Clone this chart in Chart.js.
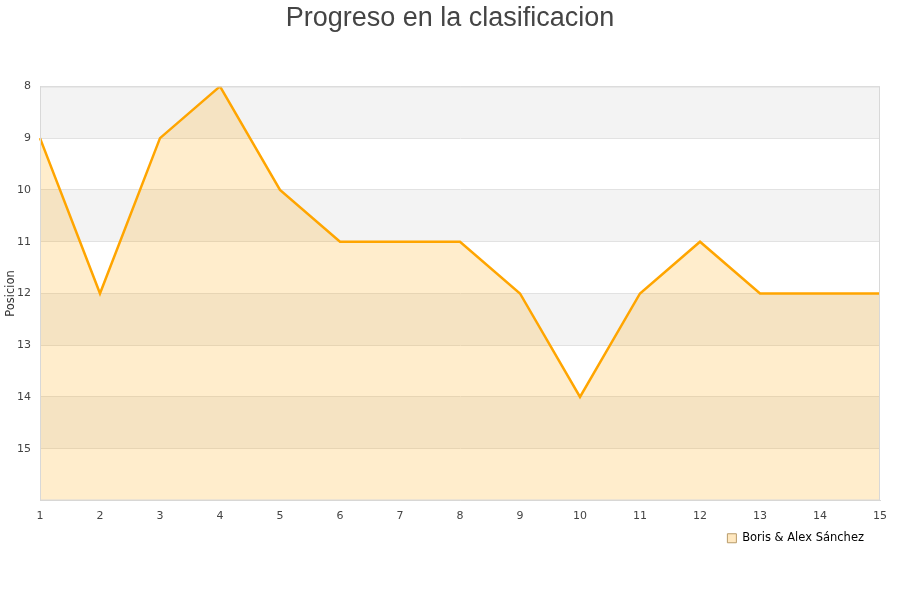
<!DOCTYPE html>
<html>
<head>
<meta charset="utf-8">
<script src="https://cdn.jsdelivr.net/npm/chart.js@4/dist/chart.umd.min.js"></script>
<style>
html,body{margin:0;padding:0;background:#fff;}
#wrap{width:900px;height:600px;}
</style>
</head>
<body>
<div id="wrap"><canvas id="c" width="900" height="600"></canvas></div>
<script>
const jornadas = [1,2,3,4,5,6,7,8,9,10,11,12,13,14,15];
const posiciones = [9,12,9,8,10,11,11,11,12,14,12,11,12,12,12];
const seriesName = 'Boris & Alex Sánchez';
const chartTitle = 'Progreso en la clasificacion';
const yTitle = 'Posicion';
const yMin = 8, yMax = 16;

const bandsPlugin = {
  id: 'bands',
  afterLayout(chart) {
    if (chart.legend) { chart.legend.left -= 8; chart.legend.right -= 8; }
    if (chart.titleBlock) { chart.titleBlock.left = 0; chart.titleBlock.right = chart.width; chart.titleBlock.width = chart.width; }
  },
  beforeDraw(chart) {
    const {ctx, chartArea: a, scales: {y}} = chart;
    ctx.save();
    for (let v = yMin; v < yMax; v++) {
      if ((v - yMin) % 2 === 0) {
        const p1 = y.getPixelForValue(v), p2 = y.getPixelForValue(v + 1);
        ctx.fillStyle = '#f3f3f3';
        ctx.fillRect(a.left, Math.min(p1,p2), a.right - a.left, Math.abs(p2 - p1));
      }
    }
    ctx.restore();
  },
  afterDatasetsDraw(chart) {
    const {ctx, chartArea: a} = chart;
    ctx.save();
    ctx.strokeStyle = '#d8d8d8';
    ctx.lineWidth = 1;
    ctx.strokeRect(a.left + 0.5, a.top + 0.5, a.right - a.left - 1, a.bottom - a.top - 1);
    ctx.restore();
  }
};

new Chart(document.getElementById('c'), {
  type: 'line',
  data: {
    labels: jornadas,
    datasets: [{
      label: seriesName,
      data: posiciones,
      borderColor: '#ffa500',
      backgroundColor: 'rgba(255,165,0,0.2)',
      borderWidth: 2.5,
      pointRadius: 0,
      tension: 0,
      fill: {value: yMax}
    }]
  },
  options: {
    responsive: false,
    animation: false,
    layout: {padding: {left: 0, right: 20, top: 0, bottom: 46}},
    plugins: {
      title: {
        display: true,
        text: chartTitle,
        color: '#444',
        font: {family: 'Liberation Sans', size: 27, weight: 'normal'},
        padding: {top: 2, bottom: 52}
      },
      legend: {
        position: 'bottom',
        align: 'end',
        labels: {
          boxWidth: 9, boxHeight: 9,
          color: '#000',
          font: {family: 'DejaVu Sans', size: 11.5},
          padding: 8,
          generateLabels(chart) {
            return [{text: seriesName, fillStyle: '#ffe8c0', strokeStyle: '#b89b6a', lineWidth: 1, datasetIndex: 0, fontColor: '#000'}];
          }
        }
      },
      tooltip: {enabled: false}
    },
    scales: {
      x: {
        grid: {display: false},
        border: {color: '#d8d8d8'},
        ticks: {color: '#444', font: {family: 'DejaVu Sans', size: 11}, maxRotation: 0, padding: 1},
        afterFit(s) { s.height = 24; }
      },
      y: {
        reverse: true,
        min: yMin, max: yMax,
        grid: {color: '#e2e2e2', drawTicks: false},
        border: {color: '#d8d8d8'},
        ticks: {
          stepSize: 1,
          color: '#444',
          font: {family: 'DejaVu Sans', size: 11},
          padding: 9,
          callback: v => (v === yMax ? '' : v)
        },
        title: {display: true, text: yTitle, color: '#333', font: {family: 'DejaVu Sans', size: 11.5}, padding: {top: 4, bottom: 0}},
        afterFit(s) { s.width = 40; }
      }
    }
  },
  plugins: [bandsPlugin]
});
</script>
</body>
</html>
